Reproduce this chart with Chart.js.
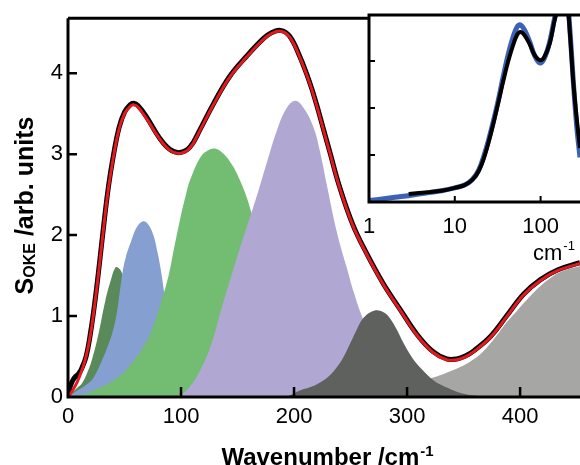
<!DOCTYPE html>
<html><head><meta charset="utf-8">
<script src="https://cdn.jsdelivr.net/npm/chart.js@4.4.1/dist/chart.umd.min.js"></script>
<style>
html,body{margin:0;padding:0;background:#fff;overflow:hidden;width:580px;height:465px;}
#wrap{position:relative;width:580px;height:465px;overflow:hidden;}
#main{position:absolute;left:0;top:0;width:580px;height:465px;}
#inset{position:absolute;left:300px;top:0;width:280px;height:270px;}
</style></head><body>
<div id="wrap">
<canvas id="main" width="580" height="465"></canvas>
<canvas id="inset" width="280" height="270"></canvas>
</div>
<script>
// ---- main plot data (wavenumber /cm-1, S_OKE /arb. units) ----
const fitX = [0,4,8,12,16,20,24,28,32,36,40,45,50,55,58,62,70,80,90,99,108,117,129,143,158,173,180,188,196,205,214,220,226,232,240,252,264,279,294,309,323,335,344,352,359,374,388,403,418,433,453];
const fitY = [0,0.08,0.18,0.32,0.5,0.78,1.18,1.65,2.15,2.6,2.95,3.3,3.5,3.59,3.61,3.58,3.43,3.21,3.05,3.01,3.08,3.3,3.62,3.95,4.2,4.42,4.49,4.52,4.45,4.2,3.87,3.6,3.3,3.0,2.6,2.12,1.77,1.39,1.07,0.76,0.55,0.46,0.46,0.5,0.56,0.74,0.99,1.26,1.44,1.56,1.65];
const dataX = [0,2,4,6.5,9,12,16,20,24,28,32,36,40,45,50,55,58,62,70,80,90,99,108,117,129,143,158,173,180,188,196,205,214,220,226,232,240,252,264,279,294,309,323,335,344,352,359,374,388,403,418,433,453];
const dataY = [0.02,0.13,0.2,0.25,0.28,0.35,0.5,0.8,1.2,1.67,2.17,2.62,2.97,3.32,3.52,3.61,3.63,3.6,3.45,3.22,3.06,3.02,3.09,3.31,3.63,3.96,4.21,4.43,4.5,4.53,4.46,4.21,3.88,3.61,3.31,3.01,2.61,2.13,1.78,1.4,1.08,0.77,0.56,0.47,0.47,0.51,0.57,0.75,1.0,1.27,1.45,1.57,1.66];

const band1X = [0,3.5,8,12.4,17,21,27,33,38,42,45,48,52,57,63,70,78,86,95];
const band1Y = [0,0.05,0.11,0.17,0.3,0.45,0.78,1.19,1.45,1.6,1.59,1.52,1.3,1.0,0.65,0.35,0.12,0.03,0];
const band2X = [0,4,9.4,15,21,25,30,35,39,42,44.8,47.8,51,56,61,66.6,71,75.5,79,82,85,88,92,98,105,115,125,135];
const band2Y = [0,0.04,0.09,0.14,0.21,0.3,0.45,0.62,0.78,0.95,1.19,1.5,1.72,1.93,2.1,2.17,2.13,2.0,1.8,1.58,1.3,1.0,0.75,0.5,0.3,0.12,0.04,0];
const band3X = [0,12,24,40,53.7,68.4,76,83,89,94,100,104,108,117,123,130,138,146,152,158,164,172,180,190,200,210,220,230,240,250];
const band3Y = [0,0.03,0.09,0.2,0.37,0.66,0.9,1.2,1.5,1.85,2.25,2.48,2.68,2.96,3.04,3.07,3.0,2.85,2.68,2.47,2.2,1.85,1.5,1.1,0.75,0.45,0.25,0.1,0.03,0];
const band4X = [90,100,108,117,126,137,149,157,164,170,176,185,193.5,201,208,217,223,229,238,246.6,252.5,260,270,280,290,300,312,325];
const band4Y = [0,0.03,0.13,0.33,0.62,1.15,1.7,2.05,2.35,2.62,2.9,3.3,3.57,3.66,3.58,3.34,3.03,2.62,2.03,1.6,1.31,1.0,0.68,0.4,0.2,0.08,0.02,0];
const band5X = [185,196,205,214,223,231,238,244,249.6,255,261,268,274.6,280,285,291,296.7,303,308.6,316,323,330,338,350,365,380];
const band5Y = [0,0.02,0.08,0.12,0.18,0.26,0.37,0.5,0.66,0.82,0.97,1.05,1.07,1.04,0.97,0.83,0.67,0.52,0.41,0.3,0.21,0.15,0.1,0.04,0.01,0];
const band6X = [240,260,280,300,312,323,335,347,356,365,376,388,397,406,418,427,435,445,453];
const band6Y = [0,0.02,0.07,0.15,0.2,0.24,0.3,0.37,0.44,0.53,0.7,0.92,1.06,1.2,1.37,1.47,1.54,1.59,1.62];

const mainXTicks = [0,100,200,300,400];
const mainYTicks = [0,1,2,3,4];

// ---- inset data (log wavenumber axis) ----
const insetBlueX = [1,1.5,2,3,5,7,10,13,16,19,22,25,28,32,37,42,48,53,58,65,75,85,98,110,128,145,160,175,188,205,220,240,264,288];
const insetBlueY = [0.03,0.07,0.1,0.14,0.2,0.24,0.3,0.36,0.48,0.68,1.0,1.35,1.7,2.15,2.7,3.15,3.52,3.72,3.77,3.66,3.4,3.12,2.96,3.05,3.42,3.9,4.25,4.5,4.6,4.3,3.65,2.6,1.6,0.95];
const insetBlackX = [2.9,5,7,10,13,16,19,22,25,28,32,37,42,48,53,58,65,75,85,98,110,128,145,160,175,188,205,220,240,264,288];
const insetBlackY = [0.17,0.21,0.24,0.3,0.36,0.47,0.66,0.95,1.3,1.65,2.1,2.6,3.0,3.35,3.55,3.62,3.55,3.35,3.13,3.02,3.08,3.38,3.85,4.15,4.4,4.52,4.21,3.58,2.58,1.77,1.15];
const insetXTicks = [1,10,100];
const insetYTicks = [1,2,3];

const FONT = '"Liberation Sans", Arial, Helvetica, sans-serif';
Chart.defaults.font.family = FONT;
Chart.defaults.color = '#000';

const pts = (xs, ys) => xs.map((x, i) => ({x: x, y: ys[i]}));
const band = (xs, ys, color, order) => ({
  data: pts(xs, ys), fill: 'origin', backgroundColor: color, borderColor: color,
  borderWidth: 0, pointRadius: 0, order: order, tension: 0.4
});

const mainDeco = {
  id: 'mainDeco',
  afterDraw(chart) {
    const {ctx, chartArea: a, scales: {x, y}} = chart;
    ctx.save();
    ctx.strokeStyle = '#000';
    ctx.lineWidth = 3;
    ctx.beginPath();
    ctx.moveTo(a.left, a.top); ctx.lineTo(a.left, a.bottom); ctx.lineTo(a.right, a.bottom);
    ctx.moveTo(a.left, a.top); ctx.lineTo(a.right, a.top);
    ctx.stroke();
    ctx.lineWidth = 2.5;
    ctx.beginPath();
    mainYTicks.slice(1).forEach(v => { const p = y.getPixelForValue(v); ctx.moveTo(a.left, p); ctx.lineTo(a.left + 9, p); });
    mainXTicks.slice(1).forEach(v => { const p = x.getPixelForValue(v); ctx.moveTo(p, a.bottom); ctx.lineTo(p, a.bottom - 10); });
    ctx.stroke();
    // x title
    ctx.fillStyle = '#000';
    ctx.textBaseline = 'alphabetic'; ctx.textAlign = 'left';
    const f1 = 'bold 24px ' + FONT, f2 = 'bold 15px ' + FONT;
    ctx.font = f1; const t1 = 'Wavenumber /cm'; const w1 = ctx.measureText(t1).width;
    ctx.font = f2; const t2 = '-1'; const w2 = ctx.measureText(t2).width;
    let sx = 327 - (w1 + w2) / 2;
    ctx.font = f1; ctx.fillText(t1, sx, 465);
    ctx.font = f2; ctx.fillText(t2, sx + w1 + 1, 456);
    // y title
    ctx.save();
    ctx.translate(33, 205.5);
    ctx.rotate(-Math.PI / 2);
    const g1 = 'bold 25px ' + FONT, g2 = 'bold 16px ' + FONT;
    ctx.font = g1; const s1 = 'S', s3 = ' /arb. units';
    const v1 = ctx.measureText(s1).width, v3 = ctx.measureText(s3).width;
    ctx.font = g2; const s2 = 'OKE'; const v2 = ctx.measureText(s2).width;
    let lx = -(v1 + v2 + v3) / 2;
    ctx.font = g1; ctx.fillText(s1, lx, 0);
    ctx.font = g2; ctx.fillText(s2, lx + v1, 2);
    ctx.font = g1; ctx.fillText(s3, lx + v1 + v2, 0);
    ctx.restore();
    ctx.restore();
  }
};

new Chart(document.getElementById('main'), {
  type: 'line',
  data: {
    datasets: [
      {data: pts(fitX, fitY), borderColor: '#e3191f', borderWidth: 3, pointRadius: 0, fill: false, order: 0, tension: 0.4},
      {data: pts(dataX, dataY), borderColor: '#000000', borderWidth: 5, pointRadius: 0, fill: false, order: 1, tension: 0.4},
      band(band5X, band5Y, '#5f615f', 2),
      band(band4X, band4Y, '#b0a7d2', 3),
      band(band3X, band3Y, '#73bd73', 4),
      band(band2X, band2Y, '#859fd0', 5),
      band(band1X, band1Y, '#5a8a5a', 6),
      band(band6X, band6Y, '#a6a6a5', 7)
    ]
  },
  options: {
    responsive: false, animation: false, devicePixelRatio: 1,
    layout: {padding: {top: 15, left: 0, right: 0, bottom: 0}},
    plugins: {legend: {display: false}, tooltip: {enabled: false}},
    scales: {
      x: {
        type: 'linear', min: 0, max: 453,
        grid: {display: false, drawTicks: false}, border: {display: false},
        afterBuildTicks: s => { s.ticks = mainXTicks.map(v => ({value: v})); },
        ticks: {padding: 7, font: {size: 22}, color: '#000', maxRotation: 0, autoSkip: false, callback: v => String(v)},
        afterFit: s => { s.height = 68; }
      },
      y: {
        type: 'linear', min: 0, max: 4.68,
        grid: {display: false, drawTicks: false}, border: {display: false},
        afterBuildTicks: s => { s.ticks = mainYTicks.map(v => ({value: v})); },
        ticks: {padding: 5, font: {size: 22}, color: '#000', autoSkip: false, callback: v => String(v)},
        afterFit: s => { s.width = 68; }
      }
    }
  },
  plugins: [mainDeco]
});

const insetBg = {
  id: 'insetBg',
  beforeDatasetsDraw(chart) {
    const {ctx, chartArea: a} = chart;
    ctx.save(); ctx.fillStyle = '#fff';
    ctx.fillRect(a.left, a.top, a.right - a.left, a.bottom - a.top);
    ctx.restore();
  },
  afterDraw(chart) {
    const {ctx, chartArea: a, scales: {x, y}} = chart;
    ctx.save();
    ctx.strokeStyle = '#000'; ctx.lineWidth = 3;
    ctx.beginPath();
    ctx.moveTo(a.right, a.top); ctx.lineTo(a.left, a.top); ctx.lineTo(a.left, a.bottom); ctx.lineTo(a.right, a.bottom);
    ctx.stroke();
    ctx.lineWidth = 2;
    ctx.beginPath();
    insetYTicks.forEach(v => { const p = y.getPixelForValue(v); ctx.moveTo(a.left, p); ctx.lineTo(a.left + 6, p); });
    insetXTicks.slice(1).forEach(v => { const p = x.getPixelForValue(v); ctx.moveTo(p, a.bottom); ctx.lineTo(p, a.bottom - 6); });
    ctx.stroke();
    ctx.fillStyle = '#000'; ctx.textAlign = 'left'; ctx.textBaseline = 'alphabetic';
    ctx.font = '22px ' + FONT;
    const cw = ctx.measureText('cm').width;
    ctx.fillText('cm', 233, 260);
    ctx.font = '13px ' + FONT;
    ctx.fillText('-1', 233 + cw + 1, 250);
    ctx.restore();
  }
};

new Chart(document.getElementById('inset'), {
  type: 'line',
  data: {
    datasets: [
      {data: pts(insetBlackX, insetBlackY), borderColor: '#000000', borderWidth: 4, pointRadius: 0, fill: false, order: 0, tension: 0.4},
      {data: pts(insetBlueX, insetBlueY), borderColor: '#3b62b5', borderWidth: 5, pointRadius: 0, fill: false, order: 1, tension: 0.4}
    ]
  },
  options: {
    responsive: false, animation: false, devicePixelRatio: 1,
    layout: {padding: {top: 15, left: 0, right: 0, bottom: 0}},
    plugins: {legend: {display: false}, tooltip: {enabled: false}},
    scales: {
      x: {
        type: 'logarithmic', min: 1, max: 288,
        grid: {display: false, drawTicks: false}, border: {display: false},
        afterBuildTicks: s => { s.ticks = insetXTicks.map(v => ({value: v})); },
        ticks: {padding: 12, font: {size: 22}, color: '#000', maxRotation: 0, autoSkip: false, callback: v => String(v)},
        afterFit: s => { s.height = 68; }
      },
      y: {
        type: 'linear', min: 0, max: 3.98,
        grid: {display: false, drawTicks: false}, border: {display: false},
        ticks: {display: false},
        afterFit: s => { s.width = 69; }
      }
    }
  },
  plugins: [insetBg]
});
</script>
</body></html>
